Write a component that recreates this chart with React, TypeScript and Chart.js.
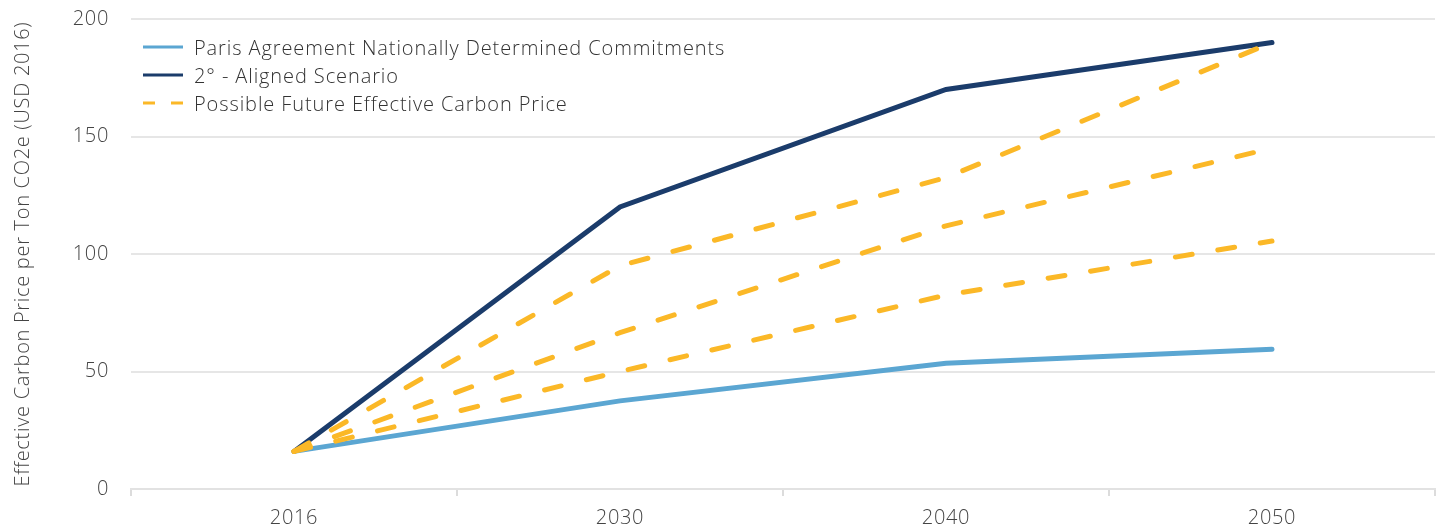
import React, { useEffect, useRef } from "react";
import { Chart, registerables } from "chart.js";

Chart.register(...registerables);

const years = ["2016", "2030", "2040", "2050"];
const parisValues = [16, 37.5, 53.5, 59.5];
const alignedValues = [16, 120, 170, 190];
const futureHigh = [16, 95, 132.5, 190];
const futureMid = [16, 66.5, 112, 145];
const futureLow = [16, 50, 82.5, 105.5];
const yTicks = [0, 50, 100, 150, 200];

const PARIS = "#5BA6D2";
const NAVY = "#1B3C6B";
const ORANGE = "#FBB827";
const FONT = "'Open Sans', 'Noto Sans', sans-serif";

const legendItems = [
  { label: "Paris Agreement Nationally Determined Commitments", color: PARIS, dashed: false },
  { label: "2° - Aligned Scenario", color: NAVY, dashed: false },
  { label: "Possible Future Effective Carbon Price", color: ORANGE, dashed: true },
];

const spacingPlugin = {
  id: "letterSpacing",
  beforeDraw: (chart: any) => {
    (chart.ctx as any).letterSpacing = "0.7px";
  },
};

export default function App() {
  const ref = useRef<HTMLCanvasElement | null>(null);

  useEffect(() => {
    if (!ref.current) return;
    const dashed = (data: number[]) => ({
      data,
      borderColor: ORANGE,
      borderWidth: 5,
      borderDash: [17, 26],
      borderCapStyle: "round" as const,
      pointRadius: 0,
      tension: 0,
      order: 0,
    });
    const solid = (data: number[], color: string) => ({
      data,
      borderColor: color,
      borderWidth: 5,
      borderCapStyle: "round" as const,
      pointRadius: 0,
      tension: 0,
      order: 1,
    });
    const chart = new Chart(ref.current, {
      type: "line",
      plugins: [spacingPlugin],
      data: {
        labels: years,
        datasets: [
          { label: legendItems[0].label, ...solid(parisValues, PARIS) },
          { label: legendItems[1].label, ...solid(alignedValues, NAVY) },
          { label: legendItems[2].label, ...dashed(futureHigh) },
          { label: legendItems[2].label + " (mid)", ...dashed(futureMid) },
          { label: legendItems[2].label + " (low)", ...dashed(futureLow) },
        ],
      },
      options: {
        animation: false,
        responsive: false,
        layout: { padding: { top: 19, right: 4, left: 0, bottom: 0 } },
        plugins: { legend: { display: false }, tooltip: { enabled: false } },
        scales: {
          x: {
            type: "category",
            offset: true,
            grid: {
              offset: true,
              drawOnChartArea: false,
              drawTicks: true,
              tickLength: 7,
              color: "#dcdcdc",
              lineWidth: 2,
            },
            border: { display: true, color: "#e2e2e2", width: 2 },
            ticks: { color: "#444", font: { family: FONT, size: 20, weight: "300" }, padding: 10 },
            afterFit: (s: any) => { s.height = 35; s.paddingLeft = 0; s.paddingRight = 0; },
          },
          y: {
            min: 0,
            max: 200,
            afterBuildTicks: (s: any) => { s.ticks = yTicks.map((v) => ({ value: v })); },
            grid: { color: "#e6e6e6", lineWidth: 2, drawTicks: false },
            border: { display: false },
            ticks: { color: "#444", font: { family: FONT, size: 20, weight: "300" }, padding: 22 },
            title: {
              display: true,
              text: "Effective Carbon Price per Ton CO2e (USD 2016)",
              color: "#444",
              font: { family: FONT, size: 20, weight: "300" },
              padding: { top: 11, bottom: 0 },
            },
            afterFit: (s: any) => { s.width = 131; s.paddingTop = 0; s.paddingBottom = 0; },
          },
        },
      },
    });
    return () => chart.destroy();
  }, []);

  return (
    <div style={{ position: "fixed", left: 0, top: 0, width: 1439, height: 524, background: "#fff" }}>
      <canvas ref={ref} width={1439} height={524} style={{ width: 1439, height: 524, display: "block" }} />
      <div style={{ position: "absolute", left: 143, top: 33, fontFamily: FONT, fontWeight: 300, fontSize: 20, letterSpacing: "0.9px", color: "#333" }}>
        {legendItems.map((it) => (
          <div key={it.label} style={{ display: "flex", alignItems: "center", height: 28 }}>
            <svg width={40} height={4} style={{ marginRight: 11 }}>
              <line
                x1={0}
                y1={2}
                x2={40}
                y2={2}
                stroke={it.color}
                strokeWidth={3}
                strokeDasharray={it.dashed ? "12 16" : undefined}
              />
            </svg>
            <span>{it.label}</span>
          </div>
        ))}
      </div>
    </div>
  );
}
